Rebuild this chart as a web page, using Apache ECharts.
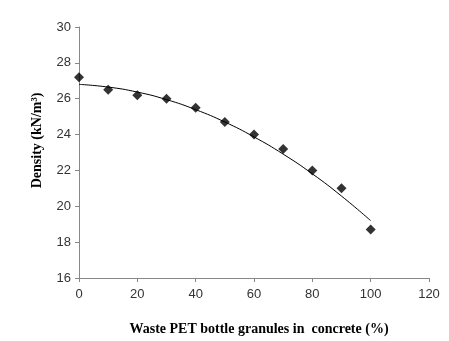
<!DOCTYPE html>
<html><head><meta charset="utf-8">
<script src="https://cdn.jsdelivr.net/npm/echarts@6/dist/echarts.min.js"></script>
<style>html,body{margin:0;padding:0;background:#fff}#c{width:449px;height:341px}</style>
</head><body><div id="c"></div>
<script>
var xValues = [0, 10, 20, 30, 40, 50, 60, 70, 80, 90, 100];
var density = [27.2, 26.5, 26.2, 26.0, 25.5, 24.7, 24.0, 23.2, 22.0, 21.0, 18.7];
var trend = [26.8, 26.65, 26.37, 25.95, 25.39, 24.7, 23.87, 22.91, 21.81, 20.57, 19.2];
var xTitle = 'Waste PET bottle granules in  concrete (%)';
var yTitle = 'Density (kN/m³)';

var chart = echarts.init(document.getElementById('c'));
chart.setOption({
  animation: false,
  backgroundColor: '#fff',
  grid: {left: 79, right: 20, top: 27, bottom: 63},
  xAxis: {
    type: 'value', min: 0, max: 120, interval: 20,
    name: xTitle, nameLocation: 'middle', nameGap: 44,
    nameTextStyle: {fontFamily: 'Liberation Serif', fontWeight: 'bold', fontSize: 14, color: '#000', padding: [0, 0, 0, 10]},
    axisLine: {lineStyle: {color: '#888'}},
    axisTick: {length: 4, lineStyle: {color: '#888'}},
    axisLabel: {fontFamily: 'Liberation Sans', fontSize: 13, color: '#333', margin: 10},
    splitLine: {show: false}
  },
  yAxis: {
    type: 'value', min: 16, max: 30, interval: 2,
    name: yTitle, nameLocation: 'middle', nameGap: 35,
    nameTextStyle: {fontFamily: 'Liberation Serif', fontWeight: 'bold', fontSize: 14, color: '#000', padding: [0, 0, 0, 24]},
    axisLine: {show: true, lineStyle: {color: '#888'}},
    axisTick: {show: true, length: 4, lineStyle: {color: '#888'}},
    axisLabel: {fontFamily: 'Liberation Sans', fontSize: 13, color: '#333', margin: 8},
    splitLine: {show: false}
  },
  series: [
    {type: 'line', data: xValues.map(function(x, i){return [x, trend[i]];}),
     smooth: true, showSymbol: false, lineStyle: {color: '#000', width: 1}, z: 1},
    {type: 'scatter', data: xValues.map(function(x, i){return [x, density[i]];}),
     symbol: 'diamond', symbolSize: 10, itemStyle: {color: '#000'}, z: 2}
  ]
});
</script></body></html>
